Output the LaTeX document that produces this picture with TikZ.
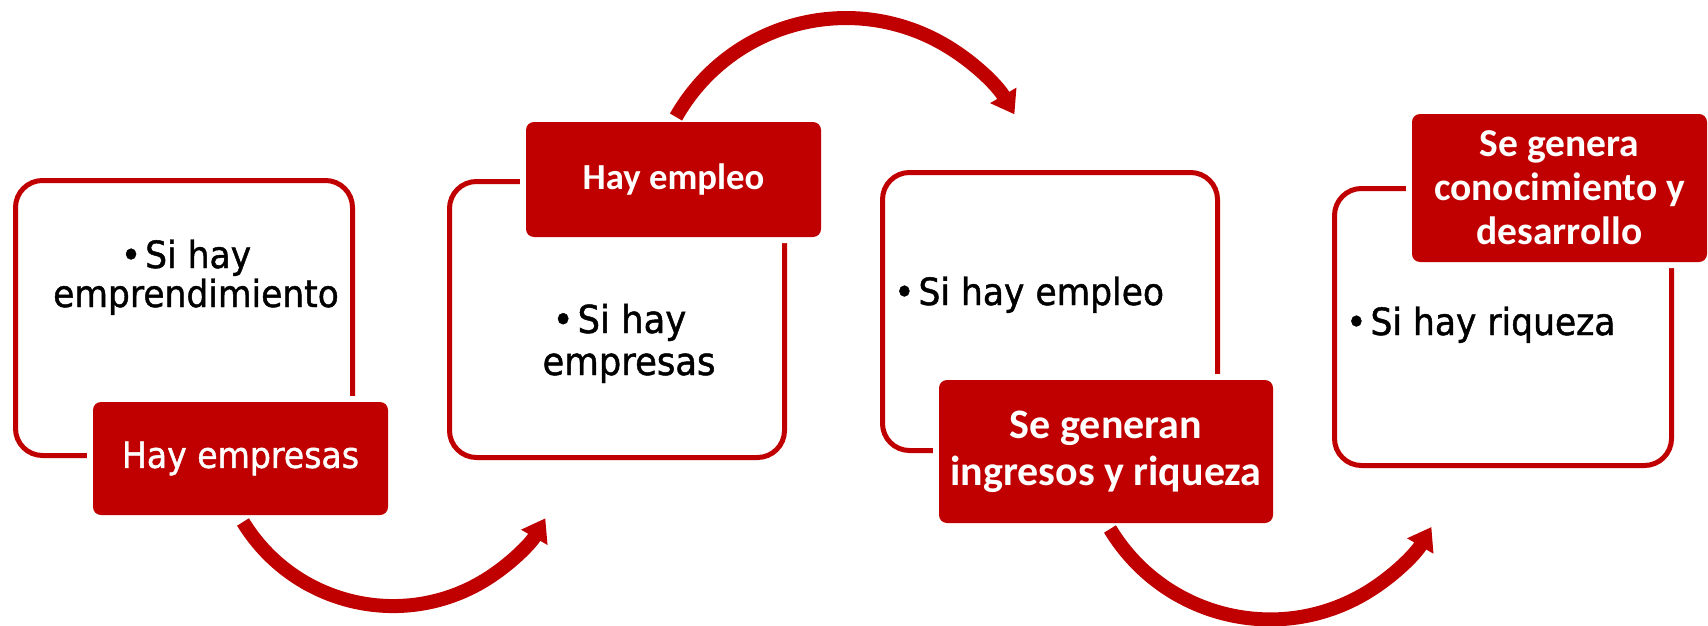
\documentclass[tikz,border=0pt]{standalone}
\usepackage{fontspec}
\newfontfamily\tah{DejaVu Sans}[FakeStretch=0.92, BoldFont=DejaVu Sans, BoldFeatures={FakeBold=1.2}]
\newfontfamily\calb{Carlito}
\usetikzlibrary{arrows.meta}
\definecolor{dred}{HTML}{C00000}
\tikzset{
  outl/.style={draw=dred, line width=5pt, rounded corners=27pt, fill=white, inner sep=0pt, outer sep=0pt},
  lab/.style={fill=dred, rounded corners=8pt, inner sep=0pt, outer sep=0pt, text=white, align=center,
              preaction={draw=white, line width=12pt}},
  btxt/.style={anchor=base, inner sep=0pt, text=black, font=\tah\bfseries\fontsize{37.5}{42}\selectfont},
  btxtb/.style={anchor=base, inner sep=0pt, text=black, font=\tah\bfseries\fontsize{38.5}{42}\selectfont},
  btxtw/.style={anchor=base west, inner sep=0pt, text=black, font=\tah\bfseries\fontsize{37.5}{42}\selectfont},
  flow/.style={draw=dred, line width=14pt, -{Triangle[length=22pt,width=29pt]}},
}
\begin{document}
\begin{tikzpicture}[x=1pt,y=-1pt]
\useasboundingbox (0,0) rectangle (1708,626);
% outline boxes
\node[outl, minimum width=337, minimum height=275] (b1) at (184,318) {};
\node[outl, minimum width=335, minimum height=276] (b2) at (617,319.5) {};
\node[outl, minimum width=335, minimum height=278] (b3) at (1050,311.5) {};
\node[outl, minimum width=337, minimum height=277] (b4) at (1503,327) {};
% labels
\node[lab, minimum width=295, minimum height=113, font=\tah\bfseries\fontsize{36}{40}\selectfont] (l1) at (240.5,458.5) {Hay empresas};
\node[lab, minimum width=295, minimum height=115, font=\calb\bfseries\fontsize{36.7}{41}\selectfont] (l2) at (673.5,179.5) {Hay empleo};
\node[lab, minimum width=334, minimum height=143, font=\calb\bfseries\fontsize{42}{47}\selectfont] (l3) at (1106,451.5) {Se generan\\ingresos y riqueza};
\node[lab, minimum width=295, minimum height=148, font=\calb\bfseries\fontsize{39.5}{44}\selectfont] (l4) at (1559.5,188) {Se genera\\conocimiento y\\desarrollo};
% box texts
\node[btxt] (t1a) at (186,268) {•\kern4pt Si hay};
\node[btxt] (t1b) at (196,307) {emprendimiento};
\node[btxtb] (t2a) at (619.5,333) {•\kern4pt Si hay};
\node[btxtb] (t2b) at (629,375) {empresas};
\node[btxtw] (t3) at (894,305) {•\kern4pt Si hay empleo};
\node[btxtw] (t4) at (1346,335) {•\kern4pt Si hay riqueza};
% flow arcs
\coordinate (a1) at (243,522);
\coordinate (a2) at (676,117);
\coordinate (a3) at (1110,529);
\draw[flow] (a1) arc[start angle=148.5, end angle=30.1, radius=176];
\draw[flow] (a2) arc[start angle=209.6, end angle=329.5, radius=195.5];
\draw[flow] (a3) arc[start angle=148.9, end angle=30.4, radius=187];
\end{tikzpicture}
\end{document}
